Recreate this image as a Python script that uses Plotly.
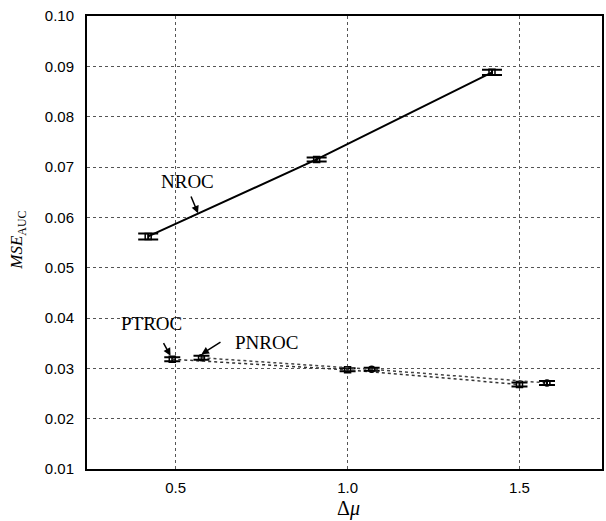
import plotly.graph_objects as go

# ---- data ----
nroc_x = [0.42, 0.91, 1.42]
nroc_y = [0.0562, 0.0715, 0.0888]
nroc_err = [0.0006, 0.0004, 0.0005]

ptroc_x = [0.49, 1.00, 1.50]
ptroc_y = [0.0318, 0.0297, 0.0268]
ptroc_err = [0.0004, 0.0003, 0.0004]

pnroc_x = [0.575, 1.07, 1.58]
pnroc_y = [0.0321, 0.0298, 0.0271]
pnroc_err = [0.0004, 0.0003, 0.0004]

x_ticks = [0.5, 1.0, 1.5]
x_tick_labels = ["0.5", "1.0", "1.5"]
y_ticks = [0.01, 0.02, 0.03, 0.04, 0.05, 0.06, 0.07, 0.08, 0.09, 0.10]
y_tick_labels = ["0.01", "0.02", "0.03", "0.04", "0.05", "0.06", "0.07", "0.08", "0.09", "0.10"]

fig = go.Figure()

fig.add_trace(go.Scatter(
    x=nroc_x, y=nroc_y, mode="lines+markers", name="NROC",
    line=dict(color="black", width=2),
    marker=dict(symbol="square-open", size=6, color="black", line=dict(width=1.5)),
    error_y=dict(type="data", array=nroc_err, visible=True, color="black", thickness=2, width=10),
))
fig.add_trace(go.Scatter(
    x=ptroc_x, y=ptroc_y, mode="lines+markers", name="PTROC",
    line=dict(color="#333333", width=1.5, dash="dot"),
    marker=dict(symbol="square-open", size=6, color="black", line=dict(width=1.5)),
    error_y=dict(type="data", array=ptroc_err, visible=True, color="black", thickness=2, width=8),
))
fig.add_trace(go.Scatter(
    x=pnroc_x, y=pnroc_y, mode="lines+markers", name="PNROC",
    line=dict(color="#444444", width=1.5, dash="dot"),
    marker=dict(symbol="circle-open", size=6, color="black", line=dict(width=1.5)),
    error_y=dict(type="data", array=pnroc_err, visible=True, color="black", thickness=2, width=8),
))

serif = "Liberation Serif, Times New Roman, serif"
sans = "Liberation Sans, Arial, sans-serif"

# callout arrows
arrows = [
    dict(x=0.565, y=0.0608, ax=-10, ay=-24),
    dict(x=0.485, y=0.0325, ax=-10, ay=-18),
    dict(x=0.575, y=0.0328, ax=22, ay=-14),
]
for a in arrows:
    fig.add_annotation(
        x=a["x"], y=a["y"], ax=a["ax"], ay=a["ay"], text=" ",
        showarrow=True, arrowhead=2, arrowsize=1, arrowwidth=1.5, arrowcolor="black",
    )

# callout labels
fig.add_annotation(x=0.535, y=0.0672, text="NROC", showarrow=False,
                   font=dict(family=serif, size=19, color="black"))
fig.add_annotation(x=0.43, y=0.0390, text="PTROC", showarrow=False,
                   font=dict(family=serif, size=19, color="black"))
fig.add_annotation(x=0.765, y=0.0352, text="PNROC", showarrow=False,
                   font=dict(family=serif, size=19, color="black"))

# axis titles
fig.add_annotation(x=0.507, y=-0.088, xref="paper", yref="paper", text="Δ<i>μ</i>",
                   xanchor="center", yanchor="middle", borderpad=0,
                   showarrow=False, font=dict(family=serif, size=20, color="black"))
fig.add_annotation(x=-0.133, y=0.505, xref="paper", yref="paper",
                   text="<i>MSE</i><sub>AUC</sub>", textangle=-90,
                   xanchor="center", yanchor="middle",
                   showarrow=False, font=dict(family=serif, size=17, color="black"))

fig.update_layout(
    width=606, height=521,
    margin=dict(l=87, r=2, t=16, b=52),
    paper_bgcolor="white", plot_bgcolor="white",
    showlegend=False,
)
fig.update_xaxes(
    range=[0.242, 1.74], tickvals=x_ticks, ticktext=x_tick_labels,
    showgrid=True, gridcolor="#555555", griddash="dot", gridwidth=1,
    showline=True, linecolor="black", linewidth=2, mirror=True,
    zeroline=False, ticks="", ticklabelstandoff=4,
    tickfont=dict(family=sans, size=15, color="black"),
)
fig.update_yaxes(
    range=[0.01, 0.10], tickvals=y_ticks, ticktext=y_tick_labels,
    showgrid=True, gridcolor="#555555", griddash="dot", gridwidth=1,
    showline=True, linecolor="black", linewidth=2, mirror=True,
    zeroline=False, ticks="", ticklabelstandoff=8,
    tickfont=dict(family=sans, size=15, color="black"),
)

fig.write_html("out.html")
